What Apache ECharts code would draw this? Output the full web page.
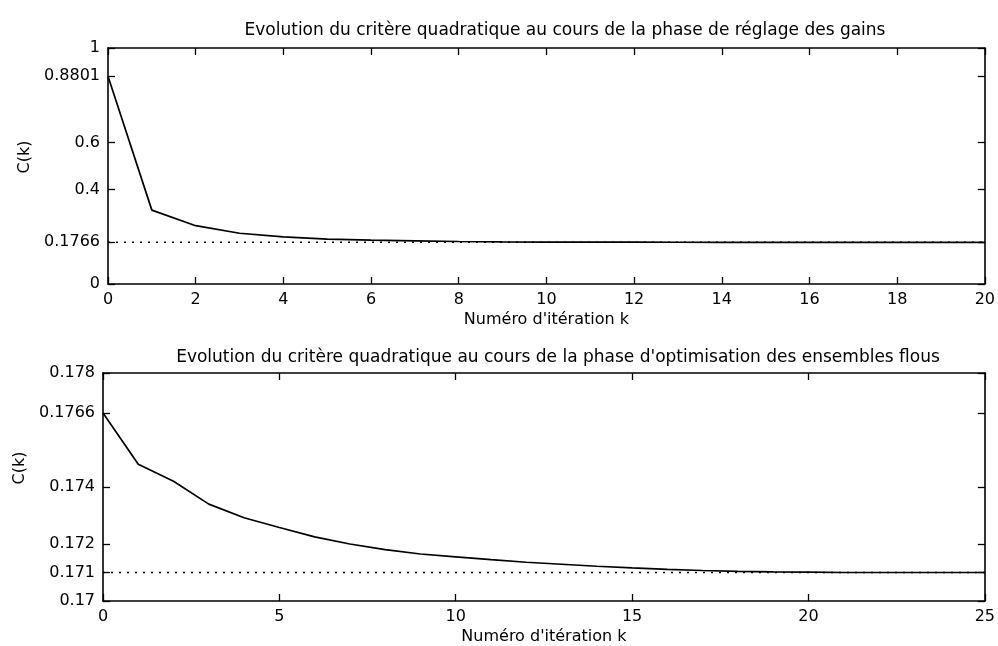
<!DOCTYPE html>
<html><head><meta charset="utf-8">
<script src="https://cdn.jsdelivr.net/npm/echarts@6/dist/echarts.min.js"></script>
<style>html,body{margin:0;padding:0;background:#fff}#c{width:998px;height:646px}</style>
</head><body><div id="c"></div>
<script>
// ---- data ----
const topTitle = "Evolution du critère quadratique au cours de la phase de réglage des gains";
const bottomTitle = "Evolution du critère quadratique au cours de la phase d'optimisation des ensembles flous";
const xName = "Numéro d'itération k";
const yName = "C(k)";

const topK = [0,1,2,3,4,5,6,7,8,9,10,11,12,13,14,15,16,17,18,19,20];
const topC = [0.8801,0.313,0.247,0.215,0.200,0.190,0.186,0.183,0.180,0.1785,0.1778,0.1774,0.1771,0.1769,0.1768,0.1767,0.1767,0.1766,0.1766,0.1766,0.1766];
const topFinal = 0.1766;
const topYTicks = [0,0.1766,0.4,0.6,0.8801,1];
const topXTicks = [0,2,4,6,8,10,12,14,16,18,20];

const botK = [0,1,2,3,4,5,6,7,8,9,10,11,12,13,14,15,16,17,18,19,20,21,22,23,24,25];
const botC = [0.1766,0.1748,0.1742,0.17340,0.17292,0.17258,0.17225,0.17200,0.17180,0.17165,0.17155,0.17145,0.17136,0.17129,0.17122,0.17116,0.17111,0.17107,0.17104,0.17102,0.17101,0.17100,0.17100,0.17100,0.17100,0.17100];
const botFinal = 0.171;
const botYTicks = [0.17,0.171,0.172,0.174,0.1766,0.178];
const botXTicks = [0,5,10,15,20,25];

// ---- chart ----
const FONT = 'DejaVu Sans, sans-serif';
const lbl = {color:'#000', fontFamily:FONT, fontSize:16};
const axLine = {show:true, onZero:false, lineStyle:{color:'#000', width:1.6}};
const tick = ticks => ({show:true, inside:true, length:7, customValues:ticks, lineStyle:{color:'#000', width:1.3}});

function xAxes(gi, maxV, ticks){
  return [
    {type:'value', gridIndex:gi, min:0, max:maxV, position:'bottom',
     axisLine:axLine, splitLine:{show:false}, axisTick:tick(ticks),
     axisLabel:{...lbl, margin:8, customValues:ticks, formatter:v=>String(v)},
     name:xName, nameLocation:'middle', nameGap:28,
     nameTextStyle:{color:'#000', fontFamily:FONT, fontSize:16}},
    {type:'value', gridIndex:gi, min:0, max:maxV, position:'top',
     axisLine:axLine, splitLine:{show:false}, axisTick:tick(ticks),
     axisLabel:{show:false}}
  ];
}
function yAxes(gi, minV, maxV, ticks, gap, shift){
  return [
    {type:'value', gridIndex:gi, min:minV, max:maxV, position:'left',
     axisLine:axLine, splitLine:{show:false}, axisTick:tick(ticks),
     axisLabel:{...lbl, margin:8, customValues:ticks, formatter:v=>String(+v.toFixed(4))},
     name:yName, nameLocation:'middle', nameGap:gap, nameRotate:90,
     nameTextStyle:{color:'#000', fontFamily:FONT, fontSize:16, padding:[0,0,0,shift]}},
    {type:'value', gridIndex:gi, min:minV, max:maxV, position:'right',
     axisLine:axLine, splitLine:{show:false}, axisTick:tick(ticks),
     axisLabel:{show:false}}
  ];
}
const dotted = {color:'#000', width:1.4, type:[2,6]};

const option = {
  backgroundColor:'#fff',
  animation:false,
  title:[
    {text:topTitle, left:560, top:17, textAlign:'center',
     textStyle:{color:'#000', fontFamily:FONT, fontSize:17, fontWeight:'normal'}},
    {text:bottomTitle, left:553, top:344, textAlign:'center',
     textStyle:{color:'#000', fontFamily:FONT, fontSize:17, fontWeight:'normal'}}
  ],
  grid:[
    {left:108, right:8, top:48, height:236},
    {left:103, right:11, top:373, height:232}
  ],
  xAxis:[...xAxes(0,20,topXTicks), ...xAxes(1,25,botXTicks)],
  yAxis:[...yAxes(0,0,1,topYTicks,75,18), ...yAxes(1,0.17,0.178,botYTicks,71,38)],
  series:[
    {type:'line', xAxisIndex:0, yAxisIndex:0, data:[[0,topFinal],[20,topFinal]],
     showSymbol:false, lineStyle:dotted, z:1},
    {type:'line', xAxisIndex:0, yAxisIndex:0, data:topK.map((k,i)=>[k,topC[i]]),
     showSymbol:false, lineStyle:{color:'#000', width:1.7}, z:2},
    {type:'line', xAxisIndex:2, yAxisIndex:2, data:[[0,botFinal],[25,botFinal]],
     showSymbol:false, lineStyle:dotted, z:1},
    {type:'line', xAxisIndex:2, yAxisIndex:2, data:botK.map((k,i)=>[k,botC[i]]),
     showSymbol:false, lineStyle:{color:'#000', width:1.7}, z:2}
  ]
};
const chart = echarts.init(document.getElementById('c'), null, {renderer:'canvas'});
chart.setOption(option);
</script></body></html>
